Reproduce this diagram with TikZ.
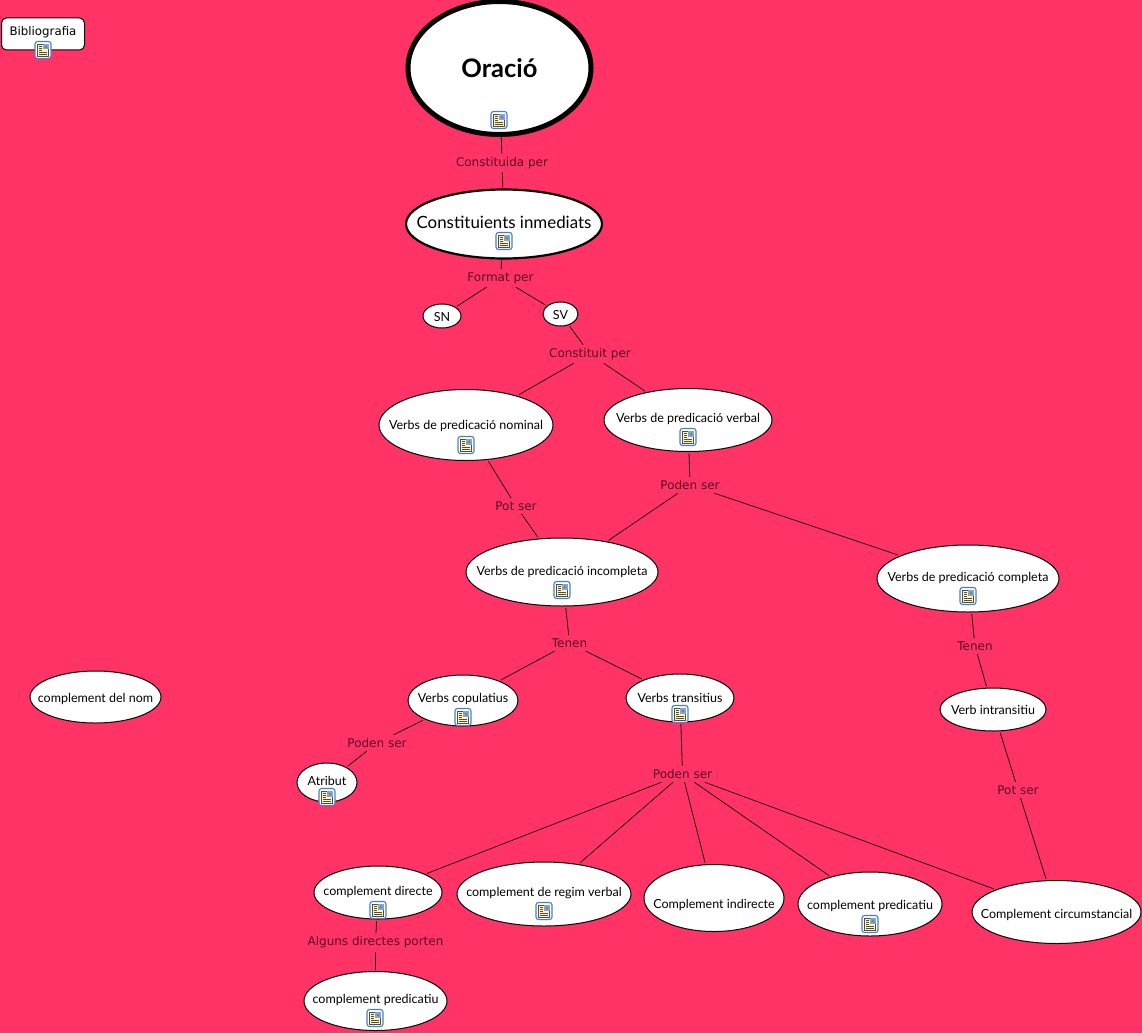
\documentclass[tikz,border=0pt]{standalone}
\usepackage{fontspec}
\setmainfont{DejaVu Sans}
\newfontfamily\conceptfont{Lato}
\usetikzlibrary{shapes.geometric}
\definecolor{mapbg}{HTML}{FF3366}
\definecolor{linkcol}{HTML}{5A0C26}
\definecolor{iconblue}{HTML}{4A7FC8}
\definecolor{iconpage}{HTML}{FFF6B8}
\newcommand{\up}[2]{\raisebox{\dimexpr #1pt-0.4em\relax}[0pt][0pt]{\makebox[0pt]{#2}}}
\tikzset{
  concept/.style={ellipse,draw=black,fill=white,line width=1pt,inner sep=0pt,outer sep=2pt,font=\conceptfont\fontsize{12.5}{14}\selectfont},
  linkname/.style={inner xsep=2pt,inner ysep=3.5pt,outer sep=0pt,text=linkcol,font=\fontsize{12}{14}\selectfont},
  link/.style={draw=black!85!mapbg,line width=0.8pt},
  docicon/.pic={
    \draw[iconblue,fill=white,line width=1.1pt,rounded corners=2.5pt] (-8,-8.5) rectangle (8,8.5);
    \fill[iconpage] (-5.5,-6) rectangle (5.5,6);
    \draw[black!70,line width=0.4pt] (-5.5,-6) rectangle (5.5,6);
    \fill[iconblue!70] (0,-6) rectangle (5.5,-0.5);
    \fill[black!50] (1.5,-2.5) -- (3,-4.5) -- (5,-1.5) -- cycle;
    \foreach \liney in {-4,-2,0} \draw[black!70,line width=0.5pt] (-4,\liney) -- (-1,\liney);
    \foreach \liney in {2,4} \draw[black!70,line width=0.5pt] (-4,\liney) -- (4,\liney);
  }
}
\begin{document}
\begin{tikzpicture}[x=1pt,y=-1pt]
   \useasboundingbox[fill=mapbg] (0,0) rectangle (1142,1033);

   \node[draw=black,fill=white,rounded corners=5pt,line width=1pt,minimum width=83pt,minimum height=32pt,inner sep=0pt,font=\fontsize{11.8}{14}\selectfont] (biblio) at (43,34) {\up{3}{Bibliografia}};
   \node[concept,line width=5pt,minimum width=183pt,minimum height=133pt,font=\conceptfont\bfseries\fontsize{25.5}{30}\selectfont] (oracio) at (499.5,68) {\up{1}{Oració}};
   \node[concept,line width=2.2pt,minimum width=196pt,minimum height=69pt,font=\conceptfont\fontsize{16.9}{20}\selectfont] (constituents) at (504,224) {\up{2}{Constituients inmediats}};
   \node[concept,minimum width=38pt,minimum height=24pt] (sn) at (442,316) {\up{0}{SN}};
   \node[concept,minimum width=35pt,minimum height=24pt] (sv) at (560.5,314) {\up{0}{SV}};
   \node[concept,minimum width=174pt,minimum height=71pt] (nominal) at (466,425) {\up{1}{Verbs de predicació nominal}};
   \node[concept,minimum width=168pt,minimum height=63pt] (verbal) at (688,420) {\up{3}{Verbs de predicació verbal}};
   \node[concept,minimum width=192pt,minimum height=68pt] (incompleta) at (562,572) {\up{2}{Verbs de predicació incompleta}};
   \node[concept,minimum width=182pt,minimum height=67pt] (completa) at (968,578.5) {\up{2}{Verbs de predicació completa}};
   \node[concept,minimum width=110pt,minimum height=51pt] (copulatius) at (463,700.5) {\up{3}{Verbs copulatius}};
   \node[concept,minimum width=108pt,minimum height=48pt] (transitius) at (680,698) {\up{1}{Verbs transitius}};
   \node[concept,minimum width=106pt,minimum height=43pt] (intransitiu) at (993,709.5) {\up{0}{Verb intransitiu}};
   \node[concept,minimum width=60pt,minimum height=39pt] (atribut) at (327,782.5) {\up{2}{Atribut}};
   \node[concept,minimum width=131pt,minimum height=52pt] (delnom) at (95.5,697) {\up{0}{complement del nom}};
   \node[concept,minimum width=128pt,minimum height=53pt] (directe) at (378,892.5) {\up{2}{complement directe}};
   \node[concept,minimum width=174pt,minimum height=64pt] (regim) at (544,894) {\up{3}{complement de regim verbal}};
   \node[concept,minimum width=140pt,minimum height=67pt] (indirecte) at (714,898) {\up{-5}{Complement indirecte}};
   \node[concept,minimum width=144pt,minimum height=64pt] (predicatiu) at (870,904) {\up{0}{complement predicatiu}};
   \node[concept,minimum width=169pt,minimum height=63pt] (circumstancial) at (1056.5,912) {\up{-1}{Complement circumstancial}};
   \node[concept,minimum width=143pt,minimum height=59pt] (predicatiudos) at (375.5,1001) {\up{3}{complement predicatiu}};

   \node[linkname] (constituida) at (502,163) {Constituida per};
   \node[linkname] (format) at (500.5,278) {Format per};
   \node[linkname] (constituit) at (590,354) {Constituit per};
   \node[linkname] (potnominal) at (516,506) {Pot ser};
   \node[linkname] (podenverbal) at (690,485) {Poden ser};
   \node[linkname] (tenenin) at (569.5,643) {Tenen};
   \node[linkname] (tenencom) at (975,646) {Tenen};
   \node[linkname] (podencop) at (377,743) {Poden ser};
   \node[linkname] (podentra) at (682.5,774) {Poden ser};
   \node[linkname] (potintra) at (1018,790) {Pot ser};
   \node[linkname] (alguns) at (375.5,942.5) {Alguns directes porten};

   \draw[link] (oracio) -- (constituida);
   \draw[link] (constituida) -- (constituents);
   \draw[link] (constituents) -- (format);
   \draw[link] (format) -- (sn);
   \draw[link] (format) -- (sv);
   \draw[link] (sv) -- (constituit);
   \draw[link] (constituit) -- (nominal);
   \draw[link] (constituit) -- (verbal);
   \draw[link] (nominal) -- (potnominal);
   \draw[link] (potnominal) -- (incompleta);
   \draw[link] (verbal) -- (podenverbal);
   \draw[link] (podenverbal) -- (incompleta);
   \draw[link] (podenverbal) -- (completa);
   \draw[link] (incompleta) -- (tenenin);
   \draw[link] (tenenin) -- (copulatius);
   \draw[link] (tenenin) -- (transitius);
   \draw[link] (completa) -- (tenencom);
   \draw[link] (tenencom) -- (intransitiu);
   \draw[link] (copulatius) -- (podencop);
   \draw[link] (podencop) -- (atribut);
   \draw[link] (transitius) -- (podentra);
   \draw[link] (podentra) -- (directe);
   \draw[link] (podentra) -- (regim);
   \draw[link] (podentra) -- (indirecte);
   \draw[link] (podentra) -- (predicatiu);
   \draw[link] (podentra) -- (circumstancial);
   \draw[link] (intransitiu) -- (potintra);
   \draw[link] (potintra) -- (circumstancial);
   \draw[link] (directe) -- (alguns);
   \draw[link] (alguns) -- (predicatiudos);

   \foreach \iconx/\icony in {43/50,499/120,504/241,466/445,688/437,562/590,968/596,463/717,680/714,327/797,378/910,544/911,870/924,375/1018}
     \pic at (\iconx,\icony) {docicon};
\end{tikzpicture}
\end{document}
